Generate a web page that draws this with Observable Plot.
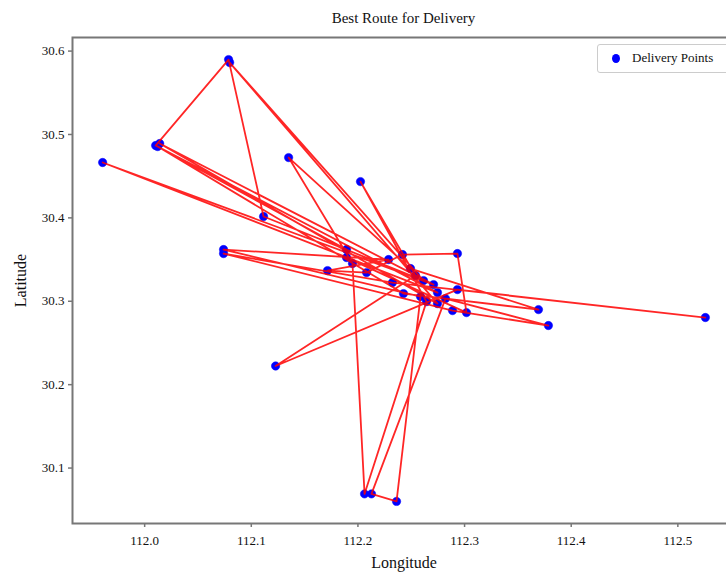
<!DOCTYPE html>
<html>
<head>
<meta charset="utf-8">
<script src="https://cdn.jsdelivr.net/npm/d3@7"></script>
<script src="https://cdn.jsdelivr.net/npm/@observablehq/plot@0.6"></script>
<style>
  html, body { margin: 0; padding: 0; background: #fff; overflow: hidden; }
  #wrap { position: relative; width: 760px; font-family: "Liberation Serif", serif; }
  #title { height: 30px; line-height: 36px; font-size: 15px; text-align: center; width: 663px; margin-left: 72px; color: #111; }
  #legend { position: absolute; left: 597px; top: 44px; width: 160px; height: 27px; border: 1px solid #ccc; border-radius: 3px; background: #fff; font-size: 13px; color: #111; }
  #legend .dot { position: absolute; left: 14px; top: 9px; width: 8px; height: 9px; border-radius: 50%; background: #0000ff; }
  #legend .txt { position: absolute; left: 34px; top: 5px; }
</style>
</head>
<body>
<div id="wrap">
  <div id="title">Best Route for Delivery</div>
  <div id="chart"></div>
  <div id="legend"><span class="dot"></span><span class="txt">Delivery Points</span></div>
</div>
<script>
// Route order of delivery points (longitude, latitude)
const lons = [112.1893, 112.0103, 112.0787, 112.1115, 112.2615, 112.0797, 112.2746, 112.0141, 112.2709, 111.9606,
              112.2746, 112.0122, 112.2427, 112.3693, 112.2493, 112.1350, 112.1949, 112.2062, 112.2643, 112.2024,
              112.2540, 112.1228, 112.2933, 112.5258, 112.2324, 112.0740, 112.2887, 112.3786, 112.2821, 112.2127,
              112.2362, 112.2587, 112.0740, 112.2287, 112.1715, 112.2081, 112.2418, 112.2933, 112.3018, 112.1893];
const lats = [30.3620, 30.4867, 30.5898, 30.4016, 30.3248, 30.5862, 30.2972, 30.4891, 30.3200, 30.4664,
              30.3104, 30.4855, 30.3092, 30.2900, 30.3392, 30.4723, 30.3452, 30.0690, 30.2996, 30.4435,
              30.3308, 30.2224, 30.3140, 30.2805, 30.3224, 30.3572, 30.2888, 30.2709, 30.3032, 30.0690,
              30.0600, 30.3056, 30.3620, 30.3500, 30.3368, 30.3344, 30.3560, 30.3572, 30.2864, 30.3524];
const xTicks = [112.0, 112.1, 112.2, 112.3, 112.4, 112.5];
const yTicks = [30.1, 30.2, 30.3, 30.4, 30.5, 30.6];

const route = lons.map((lon, i) => ({lon, lat: lats[i]}));

function padded(values) {
  const [a, b] = d3.extent(values);
  const m = (b - a) * 0.05;
  return [a - m, b + m];
}

const fmt = d => d.toFixed(1);
const chart = Plot.plot({
  width: 760,
  height: 546,
  marginTop: 7,
  marginBottom: 53,
  marginLeft: 72,
  marginRight: 25,
  style: {fontFamily: "Liberation Serif, serif", fontSize: "13px", color: "#111", background: "#fff"},
  x: {domain: padded(lons)},
  y: {domain: padded(lats)},
  marks: [
    Plot.dot(route, {x: "lon", y: "lat", r: 4.2, fill: "#0000ff", stroke: "#0000ff", strokeWidth: 0.5}),
    Plot.line(route, {x: "lon", y: "lat", stroke: "#ff0000", strokeWidth: 1.8, strokeOpacity: 0.85}),
    Plot.frame({stroke: "#777", strokeWidth: 2}),
    Plot.axisX({ticks: xTicks, tickFormat: fmt, tickSize: 4, tickPadding: 8, stroke: "#777", strokeWidth: 1.5, label: "Longitude", labelAnchor: "center", labelArrow: "none", labelOffset: 44, fontSize: 13}),
    Plot.axisY({ticks: yTicks, tickFormat: fmt, tickSize: 4, tickPadding: 4, stroke: "#777", strokeWidth: 1.5, label: "Latitude", labelAnchor: "center", labelArrow: "none", labelOffset: 58, fontSize: 13})
  ]
});
document.getElementById("chart").appendChild(chart);
// enlarge axis label text
chart.querySelectorAll("g[aria-label='x-axis label'] text, g[aria-label='y-axis label'] text").forEach(t => t.setAttribute("font-size", "16"));
</script>
</body>
</html>
